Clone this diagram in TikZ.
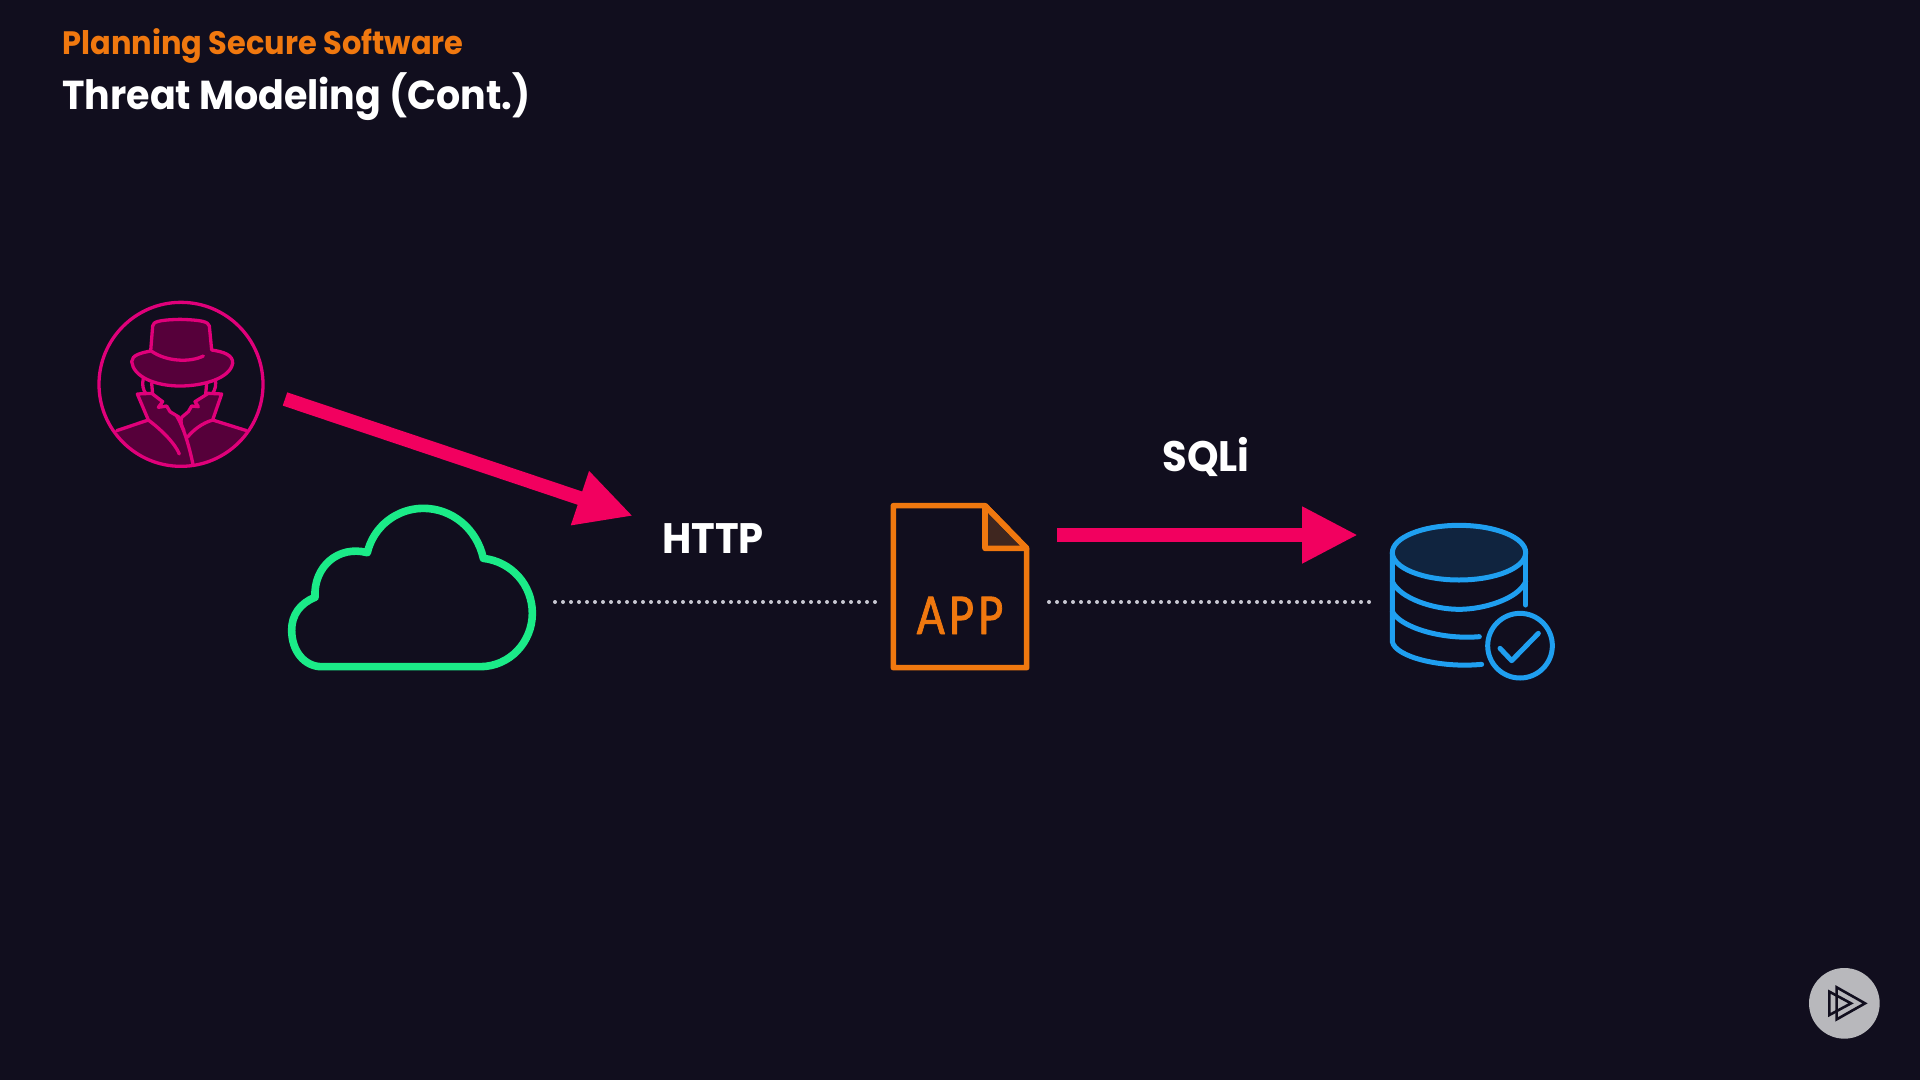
\documentclass[tikz,border=0pt]{standalone}
\usepackage{fontspec}
\usetikzlibrary{arrows.meta}
\newfontfamily\headfont{Poppins}[BoldFont={Poppins Bold},BoldFeatures={FakeStretch=0.94}]
\newfontfamily\appfont{Carlito}[FakeStretch=0.84,FakeBold=1.3,LetterSpace=7]
\definecolor{bgc}{HTML}{110E1E}
\definecolor{spyc}{HTML}{E0007A}
\definecolor{spyf}{HTML}{56003A}
\definecolor{pinkc}{HTML}{F2005F}
\definecolor{orangec}{HTML}{F0780F}
\definecolor{brownf}{HTML}{3F261F}
\definecolor{greenc}{HTML}{1BEB88}
\definecolor{bluec}{HTML}{1F9FF0}
\definecolor{bluef}{HTML}{10243F}
\definecolor{dotc}{HTML}{C8C8D2}
\definecolor{logoc}{HTML}{B8B8BC}
\tikzset{
  zoomed/.style={x=0.16667pt,y=-0.16667pt,line join=round,line cap=round},
  threat/.style={line width=7pt,pinkc,-{Triangle[length=28pt,width=26.5pt]}},
  flowdots/.style={line width=2pt,dotc,line cap=round,dash pattern=on 0pt off 4pt},
  label/.style={inner sep=0pt,anchor=base,text=white,font=\headfont\bfseries\fontsize{21.3}{24}\selectfont},
  spyline/.style={draw=spyc,line width=1.65pt},
  appline/.style={draw=orangec,line width=2.8pt},
  dbline/.style={draw=bluec,line width=2.5pt},
}
\begin{document}
\begin{tikzpicture}[x=0.5pt,y=-0.5pt]
\useasboundingbox (0,0) rectangle (1920,1080);
\fill[bgc] (0,0) rectangle (1920,1080);
% titles
\node[inner sep=0pt,anchor=base west,text=orangec,font=\headfont\bfseries\fontsize{16.2}{18}\selectfont] (sub) at (62,55) {Planning Secure Software};
\node[inner sep=0pt,anchor=base west,text=white,font=\headfont\bfseries\fontsize{20.2}{24}\selectfont] (title) at (62,110) {Threat Modeling (Cont.)};
% spy
\begin{scope}[shift={(80,280)},zoomed]
  \begin{scope}
    \clip (303,313) circle[radius=246];
    \path[fill=spyf] (110,452) -- (205,420) -- (172,342) -- (215,340) -- (248,365) -- (235,382) -- (260,378) -- (270,395) -- (300,412) -- (325,395) -- (335,378) -- (355,380) -- (345,365) -- (385,340) -- (425,342) -- (398,420) -- (500,452) -- (500,600) -- (110,600) -- cycle;
    \draw[spyline] (110,452) -- (205,420) -- (172,342) -- (215,340) -- (248,365) -- (235,382) -- (260,378) -- (270,395) -- (298,412);
    \draw[spyline] (500,452) -- (398,420) -- (425,342) -- (385,340) -- (345,365) -- (355,380) -- (335,378) -- (325,395) -- (305,412);
    \draw[spyline] (205,420) .. controls (245,450) and (285,490) .. (298,522);
    \draw[spyline] (290,408) .. controls (315,450) and (330,510) .. (340,558);
    \draw[spyline] (398,420) .. controls (365,430) and (340,450) .. (322,472);
    \draw[spyline] (305,412) .. controls (300,425) and (305,440) .. (312,452);
  \end{scope}
  \draw[spyline] (303,313) circle[radius=246];
  \draw[spyline] (190,295) .. controls (185,315) and (190,330) .. (197,340);
  \draw[spyline] (405,295) .. controls (410,315) and (405,330) .. (398,340);
  \draw[spyline] (215,310) -- (218,342);
  \draw[spyline] (380,310) -- (377,342);
  \path[spyline,fill=spyf] (212,213) -- (218,138) .. controls (220,125) and (235,120) .. (300,118) .. controls (365,120) and (385,125) .. (388,138) -- (395,210) .. controls (430,215) and (460,225) .. (458,250) .. controls (450,295) and (370,318) .. (300,318) .. controls (225,318) and (160,290) .. (155,245) .. controls (155,225) and (185,218) .. (212,213) -- cycle;
  \draw[spyline] (215,214) .. controls (260,245) and (330,248) .. (370,228);
\end{scope}
% cloud
\begin{scope}[shift={(270,490)},zoomed]
  \draw[greenc,line width=3.8pt] (155,530) -- (630,530) .. controls (720,530) and (787,455) .. (787,370) .. controls (787,285) and (725,215) .. (640,205) .. controls (620,115) and (545,55) .. (460,55) .. controls (380,55) and (310,110) .. (292,188) .. controls (205,165) and (130,230) .. (135,322) .. controls (90,340) and (65,375) .. (65,420) .. controls (65,485) and (105,530) .. (155,530) -- cycle;
\end{scope}
% app
\begin{scope}[shift={(870,490)},zoomed]
  \path[appline,fill=brownf] (345,47) -- (345,175) -- (470,175) -- cycle;
  \draw[appline] (70,47) -- (345,47) -- (470,175) -- (470,533) -- (70,533) -- cycle;
  \node[inner sep=0pt,anchor=base,text=orangec] (app) at (270,432) {\appfont\fontsize{29}{32}\selectfont APP};
\end{scope}
% database
\begin{scope}[shift={(1370,510)},zoomed]
  \path[dbline,fill=bluef] (267,128) ellipse[x radius=200,y radius=82];
  \draw[dbline] (67,128) -- (67,395) .. controls (75,440) and (210,475) .. (335,463);
  \draw[dbline] (467,128) -- (467,285);
  \draw[dbline] (67,215) .. controls (90,265) and (190,298) .. (267,298) .. controls (345,298) and (445,265) .. (467,215);
  \draw[dbline] (67,305) .. controls (90,350) and (210,390) .. (328,380);
  \draw[dbline] (450,407) circle[radius=97];
  \draw[dbline] (390,415) -- (425,452) -- (505,370);
\end{scope}
% logo
\begin{scope}[shift={(1790,950)},zoomed]
  \fill[logoc] (163,160) circle[radius=106];
  \draw[bgc,line width=1.3pt,line join=miter] (140,112) -- (225,160) -- (140,208) -- cycle;
  \draw[bgc,line width=1.3pt,line join=miter] (118,125) -- (183,160) -- (118,195) -- cycle;
\end{scope}
% labels
\node[label] (http) at (713,553) {HTTP};
\node[label] (sqli) at (1206,471) {SQLi};
% connectors
\coordinate (a1s) at (285,399);
\coordinate (a1e) at (633,516);
\coordinate (a2s) at (1057,535);
\coordinate (a2e) at (1358,535);
\coordinate (d1s) at (555,602);
\coordinate (d1e) at (878,602);
\coordinate (d2s) at (1049,602);
\coordinate (d2e) at (1372,602);
\draw[threat] (a1s) -- (a1e);
\draw[threat] (a2s) -- (a2e);
\draw[flowdots] (d1s) -- (d1e);
\draw[flowdots] (d2s) -- (d2e);
\end{tikzpicture}
\end{document}
